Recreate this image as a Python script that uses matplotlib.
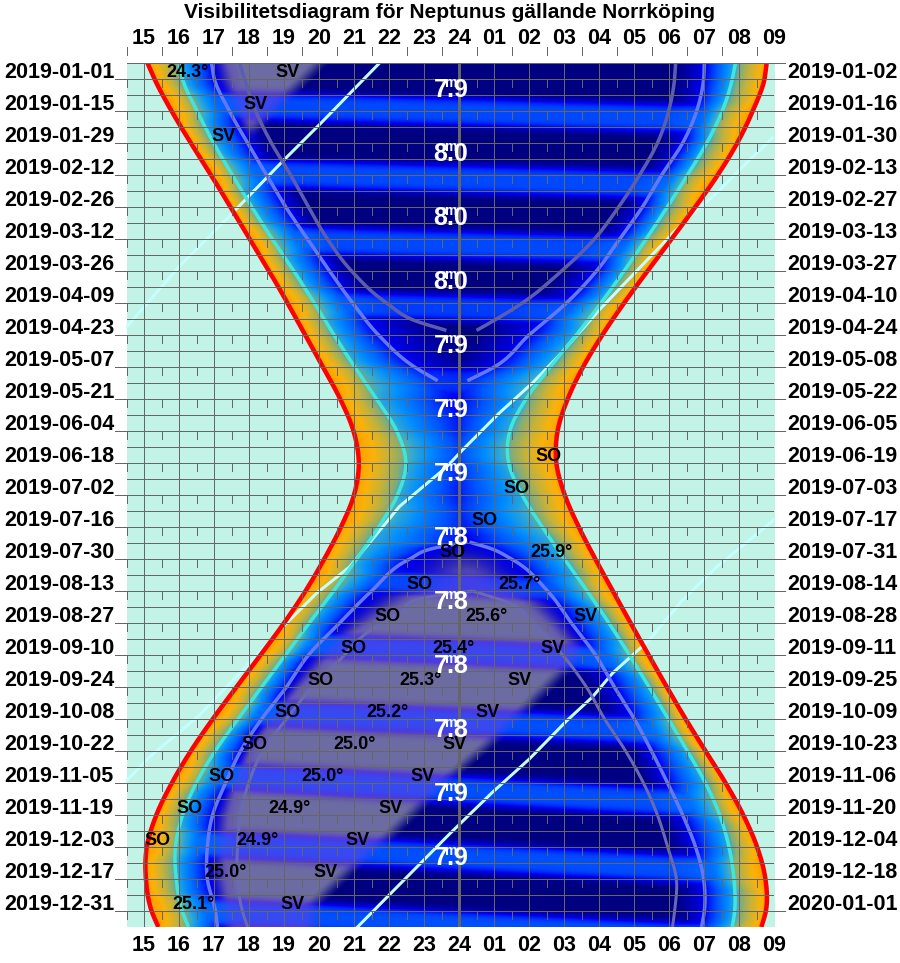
import numpy as np
import matplotlib
matplotlib.use("Agg")
import matplotlib.pyplot as plt
from matplotlib.colors import LinearSegmentedColormap

plt.rcParams['font.family'] = ['Liberation Sans', 'DejaVu Sans']

TITLE = "Visibilitetsdiagram för Neptunus gällande Norrköping"
HOUR_LABELS = ["15","16","17","18","19","20","21","22","23","24","01","02","03","04","05","06","07","08","09"]
LEFT_DATES = ["2019-01-01","2019-01-15","2019-01-29","2019-02-12","2019-02-26","2019-03-12","2019-03-26","2019-04-09",
              "2019-04-23","2019-05-07","2019-05-21","2019-06-04","2019-06-18","2019-07-02","2019-07-16","2019-07-30",
              "2019-08-13","2019-08-27","2019-09-10","2019-09-24","2019-10-08","2019-10-22","2019-11-05","2019-11-19",
              "2019-12-03","2019-12-17","2019-12-31"]
RIGHT_DATES = ["2019-01-02","2019-01-16","2019-01-30","2019-02-13","2019-02-27","2019-03-13","2019-03-27","2019-04-10",
               "2019-04-24","2019-05-08","2019-05-22","2019-06-05","2019-06-19","2019-07-03","2019-07-17","2019-07-31",
               "2019-08-14","2019-08-28","2019-09-11","2019-09-25","2019-10-09","2019-10-23","2019-11-06","2019-11-20",
               "2019-12-04","2019-12-18","2020-01-01"]

# days since 2019-01-01 of the curve readings, hours run on past 24 for the morning
DAYS = [-7] + [14*k for k in range(27)] + [371]
SUN_SET = [15.10,15.30,15.76,16.33,16.93,17.47,18.01,18.59,19.10,19.61,20.10,20.64,21.04,21.22,21.07,20.64,20.16,19.64,19.02,18.33,17.64,16.96,16.30,15.79,15.30,15.02,14.98,15.24,15.41]
SUN_RISE = [32.79,32.73,32.44,31.96,31.44,30.73,30.10,29.36,28.72,28.07,27.52,27.07,26.76,26.68,27.01,27.39,27.90,28.39,28.90,29.42,29.93,30.47,31.03,31.64,32.16,32.53,32.85,32.79,32.64]
NAUT_EVE = [16.01,16.10,16.50,16.96,17.53,18.07,18.64,19.30,19.87,20.42,21.01,21.64,22.28,22.68,22.28,21.73,21.07,20.44,19.70,19.04,18.37,17.67,17.01,16.44,16.07,15.82,15.88,16.10,16.27]
NAUT_MORN = [31.90,31.81,31.59,31.10,30.53,29.96,29.36,28.72,28.07,27.37,26.59,25.87,25.33,25.28,25.79,26.36,27.01,27.67,28.30,28.87,29.44,29.98,30.53,31.07,31.50,31.73,31.90,31.90,31.81]

ASTRO_DAYS_A = [-7,0,14,28,42,56,70,84,98,112,126,132]
ASTRO_EVE_A = [16.93,17.01,17.44,17.96,18.50,19.05,19.67,20.30,20.96,21.70,22.73,23.39]
ASTRO_MORN_A = [31.01,30.99,30.79,30.39,29.79,29.24,28.59,27.93,27.07,26.00,25.01,24.24]
ASTRO_DAYS_B = [202.6,205.2,210,224,238,252,266,280,294,308,322,336,350,364,371]
ASTRO_EVE_B = [24.24,23.30,22.59,21.50,20.59,19.70,19.07,18.36,17.76,17.33,16.96,16.81,16.81,17.04,17.10]
ASTRO_MORN_B = [24.30,24.87,25.50,26.53,27.21,27.90,28.44,29.01,29.50,29.96,30.39,30.76,30.99,31.01,30.93]
# sky keeps fading past midnight in the light summer nights
ASTRO_GAP_DAYS = [150,165,185]
ASTRO_EVE_GAP = [24.2,24.3,24.2]
ASTRO_MORN_GAP = [23.7,23.6,23.7]

DEEP_DAYS_A = [-7,0,14,28,42,56,70,84,98,106,110]
DEEP_EVE_A = [17.73,17.87,18.19,18.64,19.19,19.70,20.24,20.93,21.93,22.79,23.64]
DEEP_MORN_A = [30.19,30.16,29.99,29.67,29.16,28.56,27.87,26.93,25.81,24.96,24.50]
DEEP_EVE_DAYS_B = [224,226.6,233.6,242.4,254.2,266,280,294,308,322,336,350,364,371]
DEEP_EVE_B = [24.39,23.16,22.30,21.36,20.59,19.81,19.07,18.39,17.99,17.76,17.67,17.67,17.81,17.96]
DEEP_MORN_DAYS_B = [224,229.25,238,252,266,280,294,308,322,336,350,364,371]
DEEP_MORN_B = [24.39,25.44,26.10,26.96,27.64,28.16,28.76,29.27,29.67,29.96,30.21,30.16,30.10]
DEEP_GAP_DAYS = [132,165,200]
DEEP_EVE_GAP = [24.8,27.0,26.5]
DEEP_MORN_GAP = [23.2,21.5,22.0]

# Neptune rising / setting tracks
TRACK_A_DAYS = [-7,20,36,58.6,82,108.5]
TRACK_A_HOURS = [21.73,20.01,18.96,17.53,16.01,14.50]
TRACK_B_DAYS = [25.8,35.4,49.9,63,101,120.8,133,146,162.3,169.8,187,213.5,225,239.8,255.5,278.3,296.6,307]
TRACK_B_HOURS = [32.96,32.30,31.36,30.39,28.01,26.87,26.10,25.16,24.10,23.64,22.30,20.87,19.93,18.96,18.01,16.59,15.16,14.50]
TRACK_C_DAYS = [192.9,201.7,213.5,227.9,245.4,259.9,270.4,280.9,297.5,312,330.3,371]
TRACK_C_HOURS = [33.0,32.30,31.36,30.39,29.44,28.39,27.81,27.07,26.01,24.96,23.73,21.10]

# moon-lit bands: centre at 24h (days), half width, brightness, slope (days per hour)
MOON_DAYS = [14.4,43.8,72.6,100.2,132.6,161.9,191.6,221.4,250.7,281.3,311,340.4,370.1]
MOON_WIDTH = [6.5,6.5,6.5,6.0,6.5,6.5,6.5,5.5,6.0,6.5,6.5,6.5,6.5]
MOON_LEVEL = [.30,.30,.30,.28,.22,.18,.18,.26,.30,.31,.31,.31,.31]
MOON_TILT = [.44,.44,.44,.44,.44,.44,.6,.7,.7,.7,.9,.8,.8]

ROW_SO = [12,13,14,15,16,17,18,19,20,21,22,23,24]
HOUR_SO = [26.56,25.64,24.73,23.81,22.87,21.96,20.99,20.04,19.10,18.16,17.21,16.30,15.39]
ROW_SV = [0,1,2,17,18,19,20,21,22,23,24,25,26]
HOUR_SV = [19.10,18.19,17.27,27.61,26.67,25.73,24.81,23.87,22.96,22.04,21.10,20.19,19.24]
# right-hand fade of the grey area on the same rows
EDGE_SV = [19.75,18.84,17.92,28.56,27.62,26.68,25.76,24.82,23.75,22.79,21.85,20.79,19.84]
ROW_ALT = [0,15,16,17,18,19,20,21,22,23,24,25,26]
HOUR_ALT = [16.24,26.64,25.73,24.79,23.84,22.90,21.96,21.01,20.10,19.16,18.24,17.33,16.41]
ALT_TEXT = ["24.3°","25.9°","25.7°","25.6°","25.4°","25.3°","25.2°","25.0°","25.0°","24.9°","24.9°","25.0°","25.1°"]
MAG_TEXT = ["7.9","8.0","8.0","8.0","7.9","7.9","7.9","7.8","7.8","7.8","7.8","7.9","7.9"]

BG = (193, 244, 230)
GREY = np.array([114, 114, 164]) / 255
GREY_LIT = np.array([122, 68, 226]) / 255
GRID = '#666666'
SKY_NODES = [(0.00, (0, 0, 128)), (0.05, (0, 0, 160)), (0.17, (0, 0, 240)), (0.32, (0, 85, 255)),
             (0.45, (0, 140, 255)), (0.55, (50, 170, 210)), (0.62, (130, 172, 120)), (0.75, (195, 178, 60)),
             (0.90, (250, 178, 10)), (1.00, (255, 165, 0))]
CMAP = LinearSegmentedColormap.from_list('sky', [(p, tuple(c/255 for c in col)) for p, col in SKY_NODES])


def smooth(xs, ys, xq):
    xs = np.asarray(xs, float)
    ys = np.asarray(ys, float)
    m = np.gradient(ys, xs)
    xq = np.asarray(xq, float)
    i = np.clip(np.searchsorted(xs, xq) - 1, 0, len(xs) - 2)
    w = xs[i + 1] - xs[i]
    t = np.clip((xq - xs[i]) / w, 0, 1)
    return ((2*t**3 - 3*t**2 + 1) * ys[i] + (t**3 - 2*t**2 + t) * w * m[i]
            + (-2*t**3 + 3*t**2) * ys[i + 1] + (t**3 - t**2) * w * m[i + 1])


def soften(v):
    """Take the reading noise out of a series with a short 1-2-1 filter."""
    v = np.asarray(v, float)
    out = v.copy()
    out[2:-1] = (v[1:-2] + 2 * v[2:-1] + v[3:]) / 4
    return out


def ramp(a, b, x):
    t = np.clip((x - a) / (b - a), 0, 1)
    return t * t * (3 - 2 * t)


W, H = 648, 864
h_axis = 14.5 + (np.arange(W) + .5) * 18.5 / W
d_axis = -7 + (np.arange(H) + .5) * 378 / H

sun_set, sun_rise = soften(SUN_SET), soften(SUN_RISE)
naut_eve, naut_morn = soften(NAUT_EVE), soften(NAUT_MORN)
red_l = smooth(DAYS, sun_set, d_axis)
red_r = smooth(DAYS, sun_rise, d_axis)
cy_l = smooth(DAYS, naut_eve, d_axis)
cy_r = smooth(DAYS, naut_morn, d_axis)
lb_l = np.interp(d_axis, ASTRO_DAYS_A + ASTRO_GAP_DAYS + ASTRO_DAYS_B, ASTRO_EVE_A + ASTRO_EVE_GAP + ASTRO_EVE_B)
lb_r = np.interp(d_axis, ASTRO_DAYS_A + ASTRO_GAP_DAYS + ASTRO_DAYS_B, ASTRO_MORN_A + ASTRO_MORN_GAP + ASTRO_MORN_B)
dk_l = np.interp(d_axis, DEEP_DAYS_A + DEEP_GAP_DAYS + DEEP_EVE_DAYS_B, DEEP_EVE_A + DEEP_EVE_GAP + DEEP_EVE_B)
dk_r = np.interp(d_axis, DEEP_DAYS_A + DEEP_GAP_DAYS + DEEP_MORN_DAYS_B, DEEP_MORN_A + DEEP_MORN_GAP + DEEP_MORN_B)

row_day = 14 * np.array(ROW_SV, float) - 3.06
edge_early = np.interp(d_axis, np.r_[-7, row_day[:3]], np.r_[EDGE_SV[0] + .26, EDGE_SV[:3]])
edge_late = np.interp(d_axis, np.r_[190, 224, row_day[3:]], np.r_[34.7, 29.4, EDGE_SV[3:]])

rgb = np.zeros((H, W, 3))
for r in range(H):
    d = d_axis[r]
    vl = np.interp(h_axis, [red_l[r], cy_l[r], lb_l[r], dk_l[r]], [1, .55, .17, 0])
    vr = np.interp(-h_axis, [-red_r[r], -cy_r[r], -lb_r[r], -dk_r[r]], [1, .55, .17, 0])
    tw = np.maximum(vl, vr)
    moon = np.zeros(W)
    for c, w, p, s in zip(MOON_DAYS, MOON_WIDTH, MOON_LEVEL, MOON_TILT):
        moon += p * np.exp(-np.abs((d - c - s * (h_axis - 24)) / w) ** 4)
    v = np.clip(np.maximum(tw, moon) + .25 * np.minimum(tw, moon), 0, 1)
    col = CMAP(v)[:, :3]
    if d < 60:
        g = 1 - ramp(edge_early[r] - .35, edge_early[r] + .35, h_axis)
    elif d > 195:
        g = 1 - ramp(edge_late[r] - .35, edge_late[r] + .35, h_axis)
    else:
        g = np.zeros(W)
    g = g * ramp(lb_l[r], dk_l[r] - .3, h_axis) * (1 - ramp(dk_r[r] + .3, lb_r[r], h_axis))
    a = g * np.interp(v, [0, .12, .30, .45], [.95, .80, .48, 0])
    mix = GREY + (GREY_LIT - GREY) * np.clip(v / .3, 0, 1)[:, None]
    col = col * (1 - a[:, None]) + mix * a[:, None]
    col[(h_axis < red_l[r]) | (h_axis > red_r[r])] = np.array(BG) / 255
    rgb[r] = col

fig = plt.figure(figsize=(9, 9.63), dpi=100)
ax = fig.add_axes([126.5/900, 1 - 927/963, 647.5/900, 864/963])
ax.imshow(rgb, extent=[14.5, 33, 371, -7], aspect='auto', interpolation='nearest', zorder=1)
ax.set_xlim(14.5, 33)
ax.set_ylim(371, -7)
ax.axis('off')

px = .72
for days, hours in [(TRACK_A_DAYS, TRACK_A_HOURS), (TRACK_B_DAYS, TRACK_B_HOURS), (TRACK_C_DAYS, TRACK_C_HOURS)]:
    ax.plot(hours, days, color='#c4ffff', lw=3*px, zorder=2)

for days, hours, color, lw in [
    (ASTRO_DAYS_A, ASTRO_EVE_A, '#6478ff', 3.5), (ASTRO_DAYS_A, ASTRO_MORN_A, '#6478ff', 3.5),
    (ASTRO_DAYS_B, ASTRO_EVE_B, '#6478ff', 3.5), (ASTRO_DAYS_B, ASTRO_MORN_B, '#6478ff', 3.5),
    (DEEP_DAYS_A, DEEP_EVE_A, '#5c5cb4', 3.5), (DEEP_DAYS_A, DEEP_MORN_A, '#5c5cb4', 3.5),
    (DEEP_EVE_DAYS_B, DEEP_EVE_B, '#6a6ab4', 3), (DEEP_MORN_DAYS_B, DEEP_MORN_B, '#6a6ab4', 3),
    (DAYS, naut_eve, '#40e6dc', 3.5), (DAYS, naut_morn, '#40e6dc', 3.5),
    (DAYS, sun_set, '#ff0000', 4.5), (DAYS, sun_rise, '#ff0000', 4.5)]:
    q = np.linspace(days[0], days[-1], 500)
    ax.plot(smooth(days, hours, q), q, color=color, lw=lw*px, zorder=3, solid_capstyle='butt')

hours_full = np.arange(15, 34)
ax.vlines(hours_full, -7, 371, color=GRID, lw=px, zorder=4, antialiased=False)
ax.vlines([24], -7, 371, color=GRID, lw=3*px, zorder=4, antialiased=False)
ax.hlines(np.arange(-7, 365, 7), 14.5, 33, color=GRID, lw=px, zorder=4, antialiased=False)
tick_days = np.arange(0, 365, 14)
ax.hlines(tick_days, 14.5 - 12/35, 14.5, color=GRID, lw=px, zorder=4, clip_on=False, antialiased=False)
ax.hlines(np.r_[-7, tick_days], 33, 33 + 11/35, color=GRID, lw=px, zorder=4, clip_on=False, antialiased=False)
half = np.arange(14.5, 33, 1.0)
for start in np.arange(-14, 371, 14):
    ax.vlines(half, start, start + 3.5, color=GRID, lw=px, zorder=4, clip_on=False, antialiased=False)

for h, lab in zip(hours_full, HOUR_LABELS):
    for d in (-17.9, 378.9):
        ax.text(h, d, lab, ha='center', va='center', fontsize=15.5, fontweight='bold', clip_on=False, zorder=6)

for k, (l, r) in enumerate(zip(LEFT_DATES, RIGHT_DATES)):
    d = 14 * k - 2.7
    ax.text(11.01, d, l, ha='left', va='center', fontsize=15.5, fontweight='bold', clip_on=False, zorder=6)
    ax.text(33.39, d, r, ha='left', va='center', fontsize=15.5, fontweight='bold', clip_on=False, zorder=6)

for rows, hrs, txts in [(ROW_SO, HOUR_SO, ["SO"]*len(ROW_SO)), (ROW_SV, HOUR_SV, ["SV"]*len(ROW_SV)), (ROW_ALT, HOUR_ALT, ALT_TEXT)]:
    for k, h, t in zip(rows, hrs, txts):
        ax.text(h, 14*k - 2.8, t, ha='center', va='center', fontsize=13, fontweight='bold', color='black', zorder=6)

for i, t in enumerate(MAG_TEXT):
    d = 4.8 + 28 * i
    ax.text(23.77, d, t, ha='center', va='center', fontsize=18, fontweight='bold', color='white', zorder=7)
    ax.text(23.77, d - 2.9, "m", ha='center', va='center', fontsize=10, fontweight='bold', color='white', zorder=7)

fig.text(450/900, 1 - 12/963, TITLE, ha='center', va='center', fontsize=15, fontweight='bold')
fig.savefig('out.png', dpi=100)
